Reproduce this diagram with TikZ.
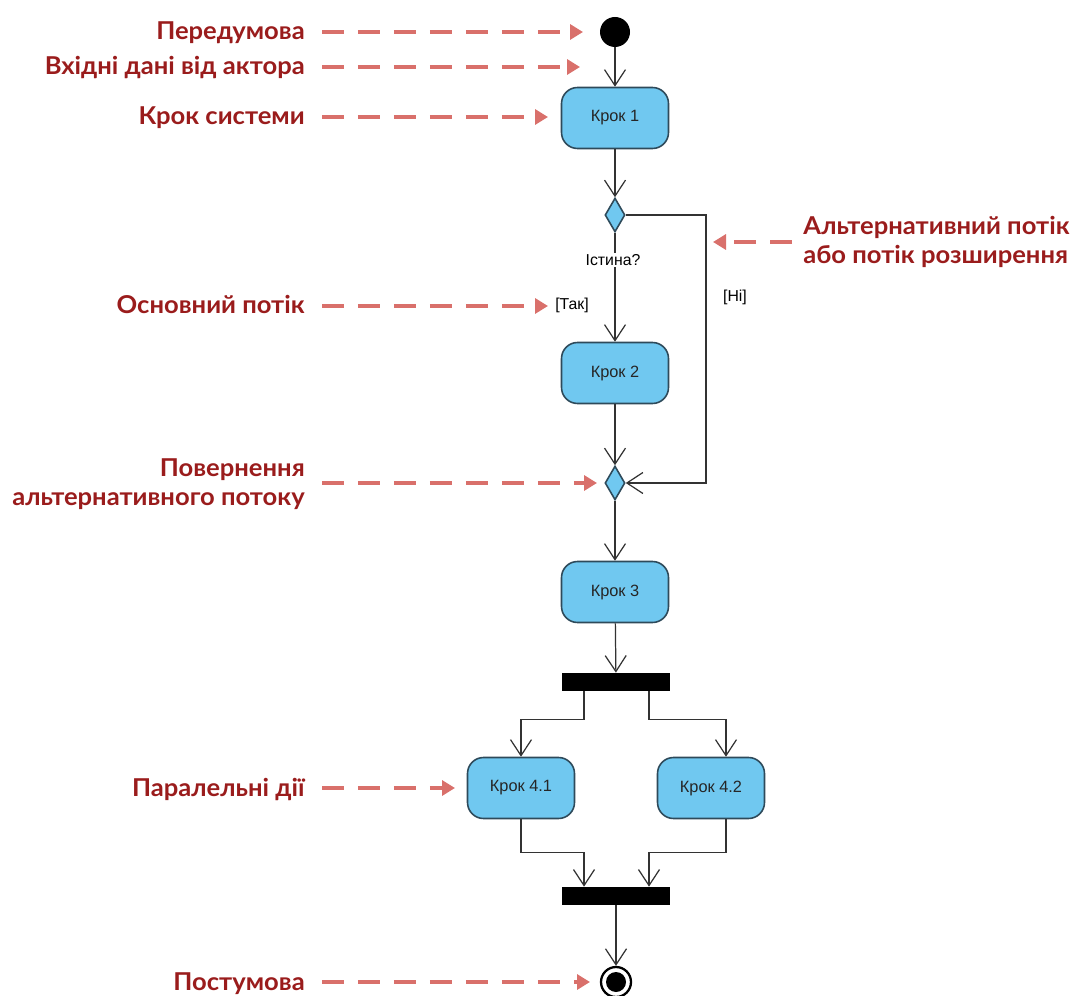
\documentclass[tikz,border=0pt]{standalone}
\usepackage{fontspec}
\setmainfont{Liberation Sans}
\newfontfamily\notefont[FakeStretch=1.04]{Lato}
\usepackage{xcolor}
\definecolor{actFill}{HTML}{70C8F0}
\definecolor{actLine}{HTML}{2E4A5A}
\definecolor{noteRed}{HTML}{9A1C1C}
\definecolor{noteArrow}{HTML}{D9706B}
\definecolor{flowGray}{HTML}{333333}
\usetikzlibrary{arrows.meta, positioning, shapes.geometric}

\begin{document}
\begin{tikzpicture}[x=0.02cm, y=-0.02cm,
  act/.style={draw=actLine, fill=actFill, line width=0.9pt, rounded corners=0.32cm, minimum width=2.14cm, minimum height=1.22cm, font=\fontsize{9.3}{11}\selectfont, text=black!85},
  dec/.style={diamond, draw=actLine, fill=actFill, line width=0.9pt, inner sep=0pt, minimum width=0.4cm, minimum height=0.68cm},
  bar/.style={fill=black, minimum width=2.16cm, minimum height=0.36cm, inner sep=0pt},
  flow/.style={-{Straight Barb[length=0.32cm, width=0.42cm]}, draw=flowGray, line width=0.7pt},
  note/.style={-{Triangle[length=0.26cm, width=0.3cm]}, draw=noteArrow, line width=2.8pt, dash pattern=on 0.44cm off 0.28cm, shorten <=0.34cm},
  lbl/.style={font=\notefont\bfseries\fontsize{14}{16.5}\selectfont, text=noteRed, inner sep=0pt},
  guard/.style={font=\fontsize{9}{11}\selectfont, inner sep=1pt}
]
  \useasboundingbox (0,0) rectangle (1071,996);

  % activity flow
  \node[circle, fill=black, minimum size=0.6cm, inner sep=0pt] (start) at (615,32) {};
  \node[act] (step1) at (615,118) {Крок 1};
  \node[dec] (dec1) at (615,215) {};
  \node[act] (step2) at (615,373) {Крок 2};
  \node[dec] (merge) at (615,483) {};
  \node[act] (step3) at (615,592) {Крок 3};
  \node[bar] (fork) at (616,682) {};
  \node[act] (step41) at (521,788) {Крок 4.1};
  \node[act] (step42) at (711,788) {Крок 4.2};
  \node[bar] (join) at (616,896) {};
  \node[circle, draw=black, line width=1.3pt, fill=white, minimum size=0.6cm, inner sep=0pt] (final) at (616,982) {};
  \node[circle, fill=black, minimum size=0.4cm, inner sep=0pt] (finalDot) at (final) {};
  \coordinate (altCorner) at (706,215);

  \draw[flow] (start) -- (step1);
  \draw[flow] (step1) -- (dec1);
  \draw[flow] (dec1) -- (step2);
  \draw[flow] (dec1.east) -- (altCorner) |- (merge.east);
  \draw[flow] (step2) -- (merge);
  \draw[flow] (merge) -- (step3);
  \draw[flow] (step3) -- (fork);
  \draw[flow] ([xshift=-0.64cm]fork.south) -- ++(0,28) -| (step41.north);
  \draw[flow] ([xshift=0.66cm]fork.south) -- ++(0,28) -| ([xshift=0.3cm]step42.north);
  \draw[flow] (step41.south) -- ++(0,33) -| ([xshift=-0.64cm]join.north);
  \draw[flow] ([xshift=0.3cm]step42.south) -- ++(0,33) -| ([xshift=0.66cm]join.north);
  \draw[flow] (join) -- (final);

  \node[guard, fill=white] (truth) at (613,260) {Істина?};
  \node[guard] (yes) at (572,305) {[Так]};
  \node[guard] (no) at (735,297) {[Ні]};

  % notes
  \node[lbl, anchor=base east] (lblPre) at (305,40) {Передумова};
  \node[lbl, anchor=base east] (lblInput) at (305,75) {Вхідні дані від актора};
  \node[lbl, anchor=base east] (lblStep) at (305,125) {Крок системи};
  \node[lbl, anchor=west, align=left] (lblAlt) at (803,242) {Альтернативний потік\\або потік розширення};
  \node[lbl, anchor=base east] (lblMain) at (305,314) {Основний потік};
  \node[lbl, anchor=east, align=right] (lblMerge) at (305,484) {Повернення\\альтернативного потоку};
  \node[lbl, anchor=base east] (lblPar) at (305,796) {Паралельні дії};
  \node[lbl, anchor=base east] (lblPost) at (305,990) {Постумова};

  \coordinate (tipPre) at (583,32);
  \coordinate (tipInput) at (580,67);
  \coordinate (tipStep) at (548,117);
  \coordinate (tipAlt) at (713,242);
  \coordinate (tipMain) at (548,306);
  \coordinate (tipMerge) at (597,483);
  \coordinate (tipPar) at (455,788);
  \coordinate (tipPost) at (590,982);

  \draw[note] (lblPre.east |- tipPre) -- (tipPre);
  \draw[note] (lblInput.east |- tipInput) -- (tipInput);
  \draw[note] (lblStep.east |- tipStep) -- (tipStep);
  \draw[note, shorten <=0.22cm] (lblAlt.west |- tipAlt) -- (tipAlt);
  \draw[note] (lblMain.east |- tipMain) -- (tipMain);
  \draw[note] (lblMerge.east |- tipMerge) -- (tipMerge);
  \draw[note] (lblPar.east |- tipPar) -- (tipPar);
  \draw[note] (lblPost.east |- tipPost) -- (tipPost);
\end{tikzpicture}
\end{document}
